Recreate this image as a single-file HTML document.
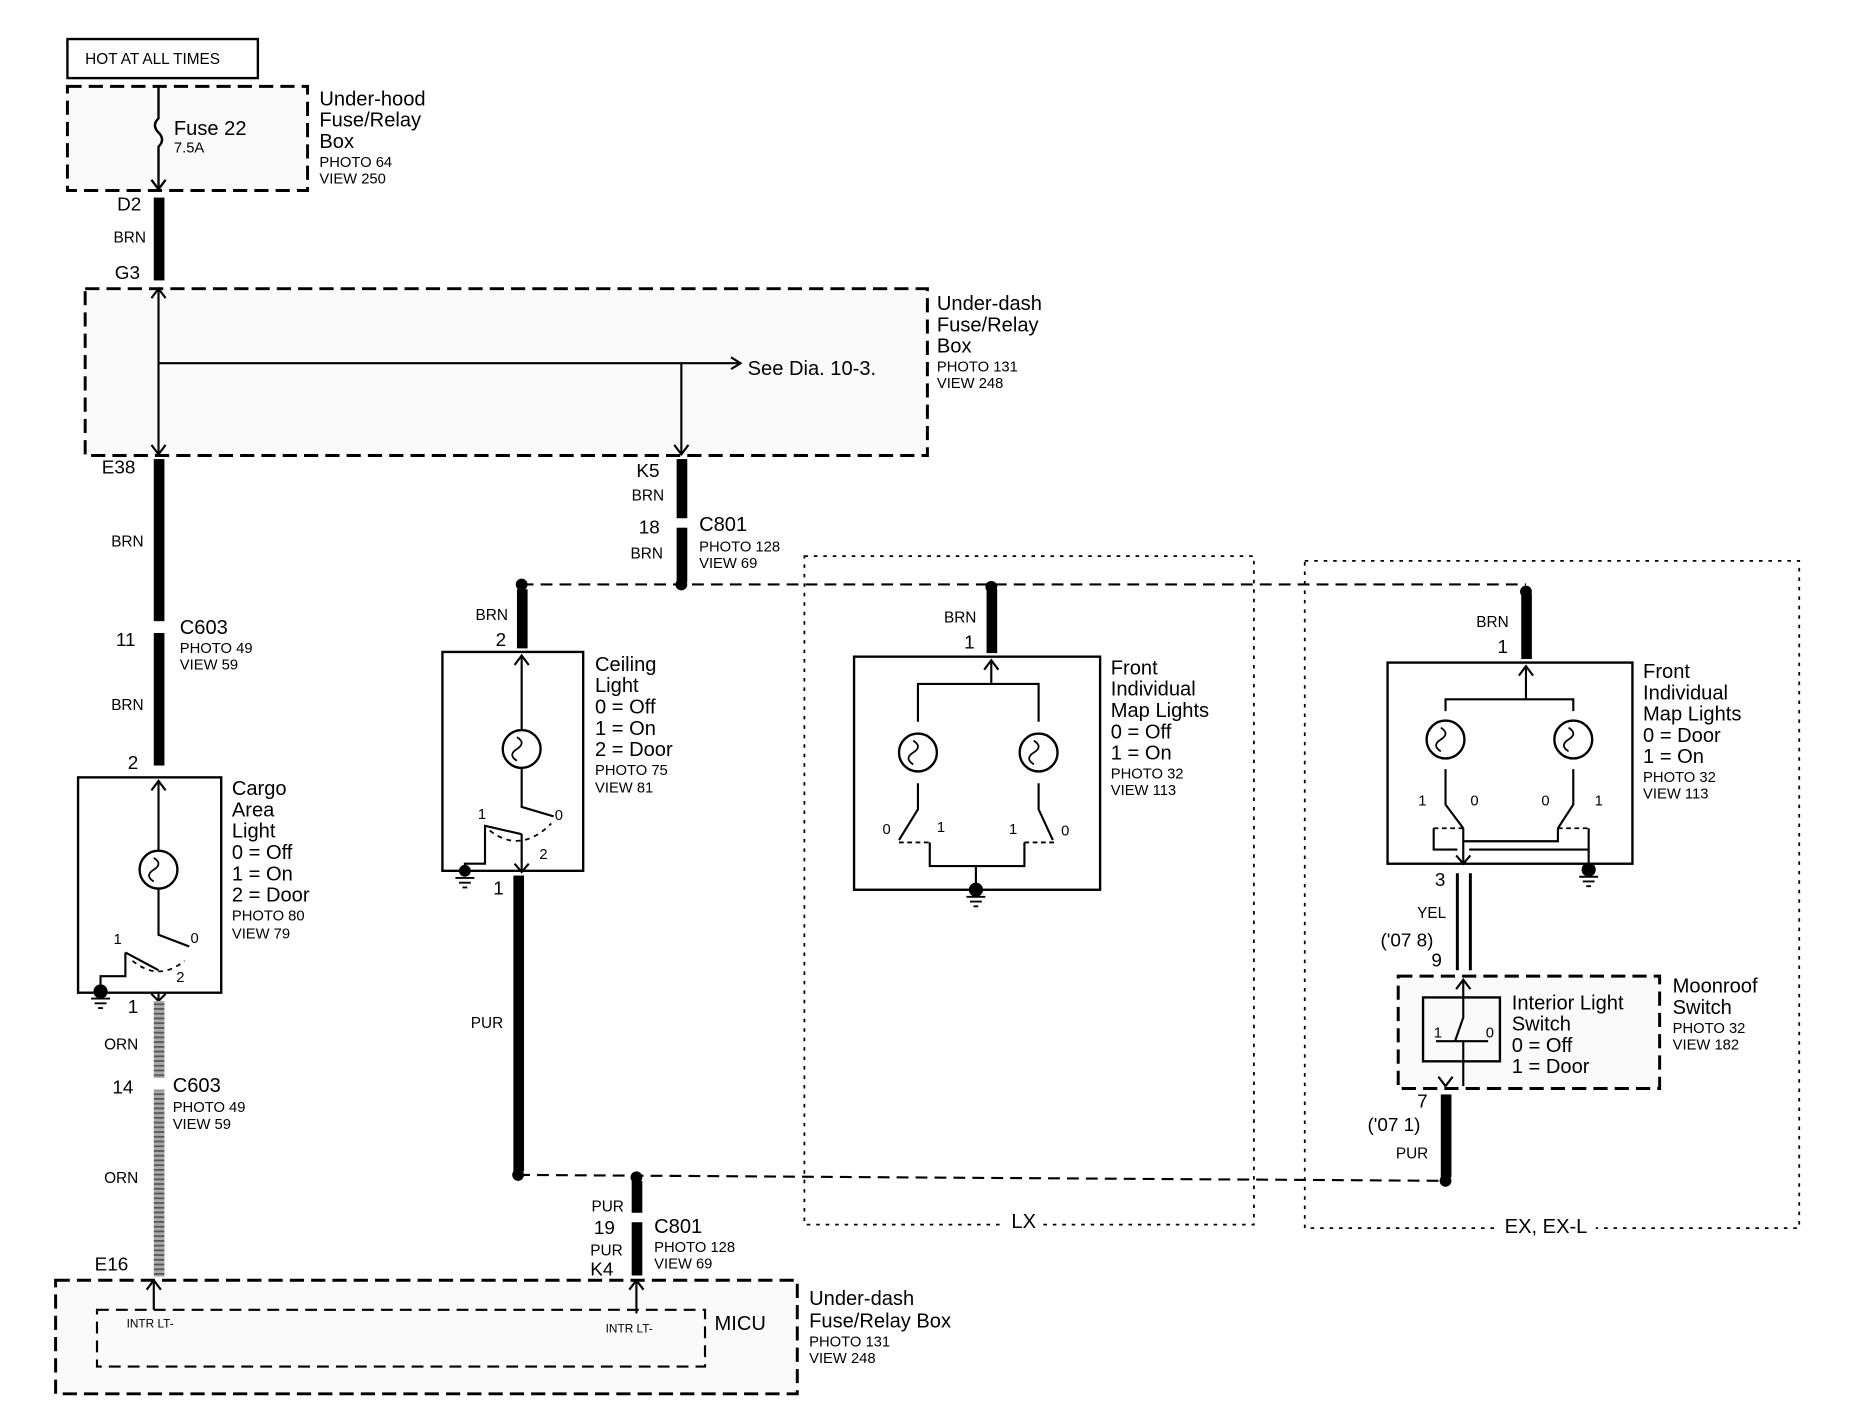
<!DOCTYPE html>
<html><head><meta charset="utf-8"><style>
html,body{margin:0;padding:0;background:#fff;width:1856px;height:1408px;overflow:hidden}
svg{display:block}
text{font-family:"Liberation Sans",Arial,sans-serif;fill:#000}
.l{font-size:17px}.s{font-size:12.5px}.w{font-size:13px}.n{font-size:16px}
</style></head><body>
<svg width="1856" height="1408" viewBox="0 0 1569 1190" preserveAspectRatio="none" xmlns="http://www.w3.org/2000/svg">
<defs>
<pattern id="hatch" width="8" height="4" patternUnits="userSpaceOnUse"><rect width="8" height="4" fill="#aaa"/><rect width="8" height="1.5" fill="#555"/></pattern>
</defs>
<g fill="none" stroke="#000">
<rect x="57" y="33" width="161" height="33" stroke-width="2"/>
<rect x="57" y="73" width="203" height="88" stroke-width="2.5" stroke-dasharray="12,6" fill="#fafafa"/>
<path d="M134,73 V100 q-6,6 0,12 q6,6 0,12 V158" stroke-width="2"/>
<path d="M128,152 L134,160 L140,152" stroke-width="2"/>
<rect x="72" y="244" width="712" height="141" stroke-width="2.5" stroke-dasharray="12,6" fill="#fafafa"/>
<path d="M134,244 V383 M134,307 H625 M576,307 V383" stroke-width="1.8"/>
<path d="M128,376 L134,384 L140,376 M570,376 L576,384 L582,376 M618,302 L626,307 L618,312 M128,252 L134,244 L140,252" stroke-width="1.8"/>
<rect x="680" y="470" width="380" height="565" stroke-width="1.5" stroke-dasharray="3,5"/>
<rect x="1103" y="474" width="418" height="564" stroke-width="1.5" stroke-dasharray="3,5"/>
<path d="M441,494 H1290" stroke-width="1.8" stroke-dasharray="10,6"/>
<path d="M438,993 L1222,998" stroke-width="1.8" stroke-dasharray="10,6"/>
<rect x="66" y="657" width="121" height="182" stroke-width="2"/>
<path d="M134,660 V719 M134,751 V790 L160,800 M134,820 L106,805 M106,805 V825 H85 V838" stroke-width="1.8"/>
<path d="M128,668 L134,660 L140,668" stroke-width="1.8"/>
<circle cx="134" cy="735" r="16" stroke-width="2"/>
<path d="M130,725 q8,5 0,10 q-8,5 0,10" stroke-width="1.5"/>
<path d="M112,812 Q134,830 156,812" stroke-width="1.5" stroke-dasharray="4,4"/>
<path d="M134,838 V846 M128,840 L134,846 L140,840" stroke-width="1.8"/>
<rect x="374" y="551" width="119" height="185" stroke-width="2"/>
<path d="M441,554 V617 M441,649 V682 L468,690 M441,705 L410,698 V730 H393 V736 M441,705 V735" stroke-width="1.8"/>
<path d="M435,562 L441,554 L447,562 M435,730 L441,737 L447,730" stroke-width="1.8"/>
<circle cx="441" cy="633" r="16" stroke-width="2"/>
<path d="M437,623 q8,5 0,10 q-8,5 0,10" stroke-width="1.5"/>
<path d="M414,702 Q440,722 466,696" stroke-width="1.5" stroke-dasharray="4,4"/>
<rect x="722" y="555" width="208" height="197" stroke-width="2"/>
<path d="M838,558 V578 M776,610 V578 H878 V610 M776,662 V684 L760,710 M878,662 V684 L890,710 M786,712 V732 H866 V712 M825,732 V752" stroke-width="1.8"/>
<path d="M832,566 L838,558 L844,566" stroke-width="1.8"/>
<circle cx="776" cy="636" r="16" stroke-width="2"/><circle cx="878" cy="636" r="16" stroke-width="2"/>
<path d="M772,626 q8,5 0,10 q-8,5 0,10 M874,626 q8,5 0,10 q-8,5 0,10" stroke-width="1.5"/>
<path d="M760,712 H786 M866,712 H892" stroke-width="1.5" stroke-dasharray="4,3"/>
<rect x="1173" y="560" width="207" height="170" stroke-width="2"/>
<path d="M1290,563 V591 M1222,601 V591 H1330 V601 M1222,650 V680 L1237,700 M1330,650 V680 L1317,700 M1237,700 V730 M1237,711 H1317 V700 M1212,700 V718 H1232 M1242,718 H1343 V700 M1343,718 V735" stroke-width="1.8"/>
<path d="M1284,571 L1290,563 L1296,571 M1231,723 L1237,730 L1243,723" stroke-width="1.8"/>
<circle cx="1222" cy="625" r="16" stroke-width="2"/><circle cx="1330" cy="625" r="16" stroke-width="2"/>
<path d="M1218,615 q8,5 0,10 q-8,5 0,10 M1326,615 q8,5 0,10 q-8,5 0,10" stroke-width="1.5"/>
<path d="M1212,700 H1237 M1317,700 H1343" stroke-width="1.5" stroke-dasharray="4,3"/>
<path d="M1232,738 V820 M1243,738 V820" stroke-width="2.5"/>
<rect x="1182" y="825" width="221" height="95" stroke-width="2.5" stroke-dasharray="12,6" fill="#fafafa"/>
<rect x="1203" y="843" width="65" height="54" stroke-width="2"/>
<path d="M1237,828 V860 L1230,880 M1237,880 V918 M1214,880 H1258" stroke-width="1.8"/>
<path d="M1231,836 L1237,828 L1243,836 M1216,910 L1222,918 L1228,910" stroke-width="1.8"/>
<rect x="47" y="1082" width="627" height="96" stroke-width="2.5" stroke-dasharray="12,6" fill="#fafafa"/>
<rect x="82" y="1107" width="514" height="48" stroke-width="1.8" stroke-dasharray="10,6"/>
<path d="M130,1082 V1107 M538,1082 V1110" stroke-width="1.8"/>
<path d="M124,1090 L130,1082 L136,1090 M532,1090 L538,1082 L544,1090" stroke-width="1.8"/>
</g>
<rect x="848" y="1026" width="30" height="18" fill="#fff"/>
<rect x="1265" y="1030" width="84" height="18" fill="#fff"/>
<g fill="#000">
<rect x="130" y="167" width="9" height="70"/>
<rect x="130" y="388" width="9" height="137"/><rect x="130" y="535" width="9" height="112"/>
<rect x="572" y="388" width="9" height="50"/><rect x="572" y="446" width="9" height="46"/>
<rect x="437" y="498" width="9" height="50"/>
<rect x="434" y="740" width="9" height="250"/>
<rect x="834" y="498" width="9" height="54"/>
<rect x="1286" y="502" width="9" height="55"/>
<rect x="1218" y="925" width="9" height="70"/>
<rect x="534" y="998" width="9" height="27"/><rect x="534" y="1033" width="9" height="45"/>
<circle cx="441" cy="494" r="5"/><circle cx="576" cy="494" r="5"/><circle cx="838" cy="496" r="5"/><circle cx="1290" cy="500" r="5"/>
<circle cx="438" cy="993" r="5"/><circle cx="538" cy="995" r="5"/><circle cx="1222" cy="998" r="5"/>
<circle cx="85" cy="838" r="6"/><circle cx="393" cy="736" r="5"/><circle cx="825" cy="752" r="6"/><circle cx="1343" cy="735" r="6"/>
</g>
<rect x="130" y="846" width="9" height="65" fill="url(#hatch)"/>
<rect x="130" y="921" width="9" height="158" fill="url(#hatch)"/>
<g stroke="#000" stroke-width="1.6">
<path d="M77,844 H93 M80,848 H90 M83,852 H87"/><path d="M385,742 H401 M388,746 H398 M391,750 H395"/>
<path d="M817,758 H833 M820,762 H830 M823,766 H827"/><path d="M1335,741 H1351 M1338,745 H1348 M1341,749 H1345"/>
</g>
<text x="72" y="54" style="font-size:13px">HOT AT ALL TIMES</text>
<text x="147" y="114" class="l">Fuse 22</text><text x="147" y="129" class="s">7.5A</text>
<text x="270" y="89" class="l">Under-hood</text><text x="270" y="107" class="l">Fuse/Relay</text><text x="270" y="125" class="l">Box</text>
<text x="270" y="141" class="s">PHOTO 64</text><text x="270" y="155" class="s">VIEW 250</text>
<text x="99" y="178" class="n">D2</text><text x="96" y="205" class="w">BRN</text><text x="97" y="236" class="n">G3</text>
<text x="632" y="317" class="l">See Dia.  10-3.</text>
<text x="792" y="262" class="l">Under-dash</text><text x="792" y="280" class="l">Fuse/Relay</text><text x="792" y="298" class="l">Box</text>
<text x="792" y="314" class="s">PHOTO 131</text><text x="792" y="328" class="s">VIEW 248</text>
<text x="86" y="400" class="n">E38</text><text x="94" y="462" class="w">BRN</text>
<text x="98" y="546" class="n">11</text><text x="152" y="536" class="l">C603</text><text x="152" y="552" class="s">PHOTO 49</text><text x="152" y="566" class="s">VIEW 59</text>
<text x="94" y="600" class="w">BRN</text><text x="108" y="650" class="n">2</text>
<text x="196" y="672" class="l">Cargo</text><text x="196" y="690" class="l">Area</text><text x="196" y="708" class="l">Light</text>
<text x="196" y="726" class="l">0 = Off</text><text x="196" y="744" class="l">1 = On</text><text x="196" y="762" class="l">2 = Door</text>
<text x="196" y="778" class="s">PHOTO 80</text><text x="196" y="793" class="s">VIEW 79</text>
<text x="96" y="798" class="s">1</text><text x="161" y="797" class="s">0</text><text x="149" y="830" class="s">2</text>
<text x="108" y="856" class="n">1</text><text x="88" y="887" class="w">ORN</text>
<text x="95" y="924" class="n">14</text><text x="146" y="923" class="l">C603</text><text x="146" y="940" class="s">PHOTO 49</text><text x="146" y="954" class="s">VIEW 59</text>
<text x="88" y="1000" class="w">ORN</text><text x="80" y="1074" class="n">E16</text>
<text x="107" y="1122" style="font-size:10px">INTR LT-</text><text x="512" y="1126" style="font-size:10px">INTR LT-</text>
<text x="604" y="1124" class="l">MICU</text>
<text x="684" y="1103" class="l">Under-dash</text><text x="684" y="1122" class="l">Fuse/Relay Box</text>
<text x="684" y="1138" class="s">PHOTO 131</text><text x="684" y="1152" class="s">VIEW 248</text>
<text x="538" y="403" class="n">K5</text><text x="534" y="423" class="w">BRN</text>
<text x="540" y="451" class="n">18</text><text x="591" y="449" class="l">C801</text><text x="591" y="466" class="s">PHOTO 128</text><text x="591" y="480" class="s">VIEW 69</text>
<text x="533" y="472" class="w">BRN</text>
<text x="402" y="524" class="w">BRN</text><text x="419" y="546" class="n">2</text>
<text x="503" y="567" class="l">Ceiling</text><text x="503" y="585" class="l">Light</text><text x="503" y="603" class="l">0 = Off</text>
<text x="503" y="621" class="l">1 = On</text><text x="503" y="639" class="l">2 = Door</text>
<text x="503" y="655" class="s">PHOTO 75</text><text x="503" y="670" class="s">VIEW 81</text>
<text x="404" y="692" class="s">1</text><text x="469" y="693" class="s">0</text><text x="456" y="726" class="s">2</text>
<text x="417" y="756" class="n">1</text><text x="398" y="869" class="w">PUR</text>
<text x="500" y="1024" class="w">PUR</text><text x="502" y="1043" class="n">19</text>
<text x="553" y="1042" class="l">C801</text><text x="553" y="1058" class="s">PHOTO 128</text><text x="553" y="1072" class="s">VIEW 69</text>
<text x="499" y="1061" class="w">PUR</text><text x="499" y="1078" class="n">K4</text>
<text x="798" y="526" class="w">BRN</text><text x="815" y="548" class="n">1</text>
<text x="939" y="570" class="l">Front</text><text x="939" y="588" class="l">Individual</text><text x="939" y="606" class="l">Map Lights</text>
<text x="939" y="624" class="l">0 = Off</text><text x="939" y="642" class="l">1 = On</text>
<text x="939" y="658" class="s">PHOTO 32</text><text x="939" y="672" class="s">VIEW 113</text>
<text x="746" y="705" class="s">0</text><text x="792" y="703" class="s">1</text><text x="853" y="705" class="s">1</text><text x="897" y="706" class="s">0</text>
<text x="855" y="1038" class="l">LX</text>
<text x="1248" y="530" class="w">BRN</text><text x="1266" y="552" class="n">1</text>
<text x="1389" y="573" class="l">Front</text><text x="1389" y="591" class="l">Individual</text><text x="1389" y="609" class="l">Map Lights</text>
<text x="1389" y="627" class="l">0 = Door</text><text x="1389" y="645" class="l">1 = On</text>
<text x="1389" y="661" class="s">PHOTO 32</text><text x="1389" y="675" class="s">VIEW 113</text>
<text x="1199" y="681" class="s">1</text><text x="1243" y="681" class="s">0</text><text x="1303" y="681" class="s">0</text><text x="1348" y="681" class="s">1</text>
<text x="1213" y="749" class="n">3</text><text x="1198" y="776" class="w">YEL</text><text x="1167" y="800" class="n">('07 8)</text><text x="1210" y="817" class="n">9</text>
<text x="1278" y="853" class="l">Interior Light</text><text x="1278" y="871" class="l">Switch</text>
<text x="1278" y="889" class="l">0 = Off</text><text x="1278" y="907" class="l">1 = Door</text>
<text x="1212" y="877" class="s">1</text><text x="1256" y="877" class="s">0</text>
<text x="1414" y="839" class="l">Moonroof</text><text x="1414" y="857" class="l">Switch</text>
<text x="1414" y="873" class="s">PHOTO 32</text><text x="1414" y="887" class="s">VIEW 182</text>
<text x="1198" y="936" class="n">7</text><text x="1156" y="956" class="n">('07 1)</text><text x="1180" y="979" class="w">PUR</text>
<text x="1272" y="1042" class="l">EX, EX-L</text>
</svg>
</body></html>
